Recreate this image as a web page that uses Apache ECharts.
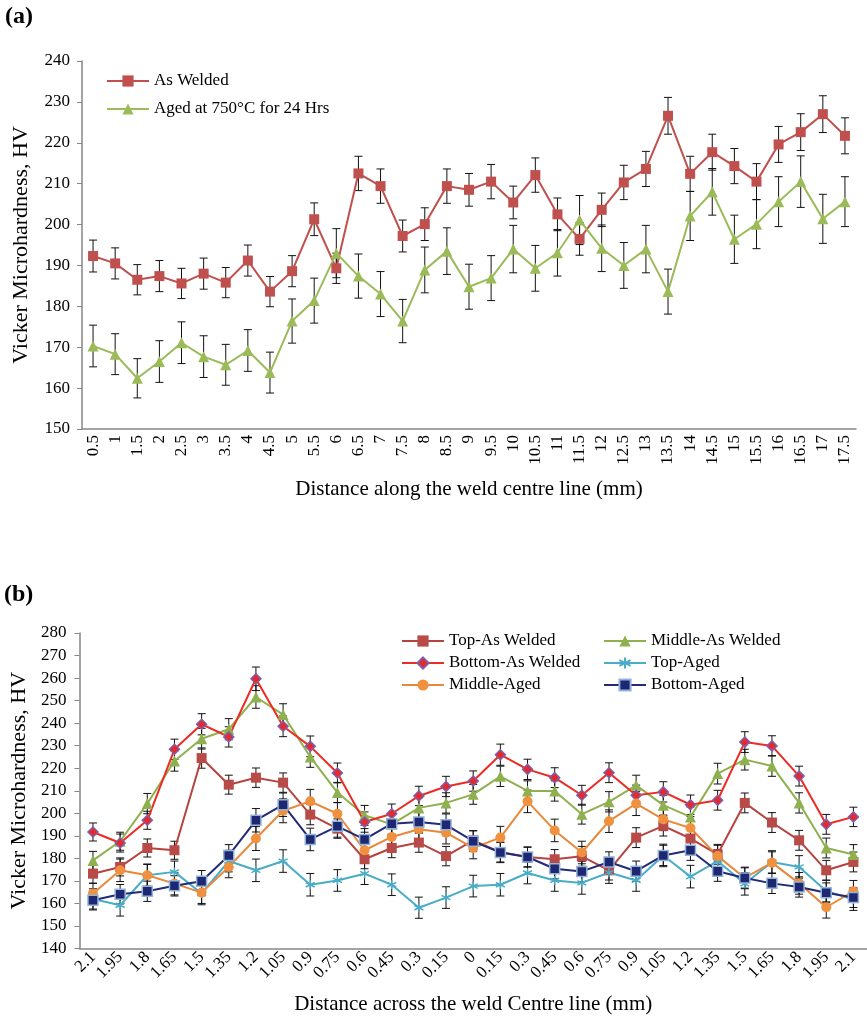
<!DOCTYPE html>
<html><head><meta charset="utf-8">
<script src="https://cdn.jsdelivr.net/npm/echarts@6/dist/echarts.min.js"></script>
<style>html,body{margin:0;padding:0;background:#fff}#c{width:867px;height:1024px}</style>
</head><body><div id="c"></div>
<script>
// ---------- Chart (a) data ----------
const catsA = ['0.5','1','1.5','2','2.5','3','3.5','4','4.5','5','5.5','6','6.5','7','7.5','8','8.5','9','9.5','10','10.5','11','11.5','12','12.5','13','13.5','14','14.5','15','15.5','16','16.5','17','17.5'];
const asWelded = [192.3,190.5,186.5,187.4,185.6,188,185.8,191.2,183.6,188.6,201.3,189.3,212.5,209.4,197.2,200.1,209.4,208.5,210.5,205.4,212.1,202.5,196.5,203.6,210.3,213.6,226.6,212.4,217.7,214.3,210.5,219.6,222.6,227,221.7];
const asWeldedErr = [3.9,3.8,3.7,3.8,3.7,3.8,3.7,3.8,3.7,3.8,4,3.7,4.2,4.2,3.9,4,4.2,4,4.2,4,4.2,4,4,4.1,4.2,4.3,4.5,4.3,4.4,4.3,4.4,4.4,4.5,4.5,4.4];
const aged = [170.3,168.3,162.4,166.5,171.1,167.7,165.7,169.2,163.8,176.4,181.4,193,187.4,183,176.4,188.9,193.5,184.8,186.9,194,189.3,193.1,201.1,194.2,190,194,183.6,202.1,208,196.4,200.1,205.6,210.5,201.4,205.6];
const agedErr = [5.1,5,4.8,5.1,5.1,5.1,5,5.1,5,5.4,5.5,6,5.4,5.5,5.3,5.6,5.7,5.5,5.5,5.8,5.6,5.7,6,5.7,5.6,5.8,5.5,6,5.7,5.9,6,6.1,6.3,6,6.1];
const ticksA = {min:150, max:240, interval:10};

// ---------- Chart (b) data ----------
const catsB = ['2.1','1.95','1.8','1.65','1.5','1.35','1.2','1.05','0.9','0.75','0.6','0.45','0.3','0.15','0','0.15','0.3','0.45','0.6','0.75','0.9','1.05','1.2','1.35','1.5','1.65','1.8','1.95','2.1'];
const topAW = [173.2,176.2,184.6,183.6,224.5,212.7,215.8,213.6,199.4,193.2,179.6,184.6,187,181,188,182.8,180.6,179.6,180.9,174.7,189.2,194.4,188.8,181.8,204.6,195.9,188,174.7,178.4];
const bottomAW = [191.7,186.8,196.9,228.4,239.5,233.9,259.7,238.6,229.7,217.9,196.1,199.8,207.7,211.9,214.3,226,219.5,215.8,208,218,208,209.5,203.8,205.8,231.6,229.9,216.5,195.1,198.4];
const middleAW = [179.1,187.6,204.3,223.2,233.1,237.3,251.6,243.8,225,209.2,199.1,195.1,202.4,204.6,208.4,216.4,209.9,209.9,199.6,205.1,212.4,203.6,198.4,217.6,223.8,221,204.6,184.6,181.7];
const topAged = [162,159.2,172.5,174,164.4,178.8,174.7,178.8,168.3,170.2,173.2,168.3,158.1,162.6,167.7,168.3,173.5,170.2,169.1,173.7,170.2,181.3,171.9,178.8,168.7,178.4,176.2,165.5,161.7];
const middleAged = [164.4,174.7,172.5,168.8,164.8,176.2,188.8,201.1,205.3,199.8,183.6,189.5,192.9,191.4,184.6,189.2,205.3,192.4,182.6,196.5,204.3,197.3,193.5,181,171.3,178.1,168.9,158.3,165.4];
const bottomAged = [161.4,164.1,165.4,167.8,169.8,181.3,196.9,203.8,188.4,194.2,188.4,195.4,196.1,194.9,187.6,182.6,180.6,175.4,174.2,178.4,174.3,181.3,183.6,174.3,171.3,168.9,167.3,164.7,162.6];
const topAWErr = [4.2,4,4,4,4.5,4.2,4.3,4.3,4.5,4.3,4.2,4.3,4.3,4.3,4.3,4.4,4.3,4.3,4.4,4.3,4.4,4.5,4.5,4.4,4.4,4.4,4.4,4.4,4.4];
const bottomAWErr = [4,4,4,4.5,4.7,4.5,5.2,4.6,4.6,4.4,4.5,4.3,4.3,4.5,4.5,4.7,4.5,4.4,4.4,4.4,4.5,4.5,4.3,4.4,4.6,4.5,4.4,4.4,4.3];
const middleAWErr = [4,4,4.5,4.5,4.6,4.7,5,4.8,4.6,4.5,4.4,4.4,4.5,4.5,4.4,4.5,4.5,4.5,4.4,4.5,4.5,4.4,4.4,4.6,4.6,4.6,4.5,4.4,4.4];
const topAgedErr = [4.5,4.8,4.8,4.8,5,4.8,5,5,5,4.8,4.8,4.8,4.7,4.8,4.8,5,4.8,4.8,5,4.8,4.8,5,5,5,5,5,5,4.8,4.8];
const middleAgedErr = [4.5,5,5,5,4.8,4.8,5.3,5.3,5.3,5,4.8,4.8,5,5,4.8,5,5,5,5,5,5.3,5,5,4.8,4.8,4.8,4.8,4.8,4.8];
const bottomAgedErr = [4.3,4.3,4.5,4.5,4.8,4.8,5.2,5.2,5,4.8,4.8,4.8,4.8,4.8,4.6,4.5,4.5,4.5,4.5,4.5,4.5,4.5,4.5,4.5,4.5,4.5,4.5,4.4,4.4];
const ticksB = {min:140, max:280, interval:10};

const FONT = 'Liberation Serif';
const AXIS_COLOR = '#868686';
const asterisk = 'path://M5,0L5,10M0.7,2.5L9.3,7.5M9.3,2.5L0.7,7.5';

function errSeries(idx, vals, errs) {
  return {
    type: 'custom', xAxisIndex: idx, yAxisIndex: idx, z: 1, silent: true,
    data: vals.map((v, i) => [i, v - errs[i], v + errs[i]]),
    encode: {x: 0, y: [1, 2]},
    renderItem: function (params, api) {
      const x = api.value(0);
      const lo = api.coord([x, api.value(1)]);
      const hi = api.coord([x, api.value(2)]);
      const hw = 4;
      const st = {stroke: '#111', lineWidth: 1};
      return {type: 'group', children: [
        {type: 'line', shape: {x1: lo[0], y1: lo[1], x2: hi[0], y2: hi[1]}, style: st},
        {type: 'line', shape: {x1: lo[0] - hw, y1: lo[1], x2: lo[0] + hw, y2: lo[1]}, style: st},
        {type: 'line', shape: {x1: hi[0] - hw, y1: hi[1], x2: hi[0] + hw, y2: hi[1]}, style: st}
      ]};
    }
  };
}
function lineSeries(idx, name, vals, color, symbol, size, itemStyle) {
  return {
    type: 'line', name: name, xAxisIndex: idx, yAxisIndex: idx, z: 3,
    data: vals, symbol: symbol, symbolSize: size, showAllSymbol: true,
    lineStyle: {color: color, width: 2},
    itemStyle: Object.assign({color: color, opacity: 1}, itemStyle || {}),
    emphasis: {disabled: true}, animation: false
  };
}
function xAxis(idx, cats, rotate, name, nameGap) {
  return {
    type: 'category', gridIndex: idx, data: cats, boundaryGap: true,
    axisLine: {lineStyle: {color: AXIS_COLOR, width: 1.5}},
    axisTick: {show: false},
    axisLabel: {interval: 0, rotate: rotate, color: '#000', fontFamily: FONT, fontSize: 17, margin: 6},
    name: name, nameLocation: 'middle', nameGap: nameGap,
    nameTextStyle: {color: '#000', fontFamily: FONT, fontSize: 21}
  };
}
function yAxis(idx, t, nameGap, margin) {
  return {
    type: 'value', gridIndex: idx, min: t.min, max: t.max, interval: t.interval,
    splitLine: {show: false},
    axisLine: {show: true, lineStyle: {color: AXIS_COLOR, width: 1.5}},
    axisTick: {show: true, length: 5, lineStyle: {color: AXIS_COLOR}},
    axisLabel: {color: '#000', fontFamily: FONT, fontSize: 17, margin: margin},
    name: 'Vicker Microhardness, HV', nameLocation: 'middle', nameGap: nameGap,
    nameTextStyle: {color: '#000', fontFamily: FONT, fontSize: 22}
  };
}
const legendText = {color: '#000', fontFamily: FONT, fontSize: 17, lineHeight: 18};

const option = {
  animation: false,
  backgroundColor: '#fff',
  graphic: [
    {type: 'text', left: 5, top: 5, style: {text: '(a)', font: 'bold 24px "Liberation Serif"', fill: '#000'}},
    {type: 'text', left: 4, top: 583, style: {text: '(b)', font: 'bold 24px "Liberation Serif"', fill: '#000'}}
  ],
  grid: [
    {left: 82, right: 11, top: 61, height: 368},
    {left: 78, right: -5, top: 633, height: 315.5}
  ],
  legend: [
    {data: ['As Welded', 'Aged at 750°C for 24 Hrs'], orient: 'vertical', left: 106, top: 72, padding: 0,
     itemWidth: 42, itemHeight: 14, itemGap: 10, textStyle: legendText, selectedMode: false},
    {data: ['Top-As Welded', 'Bottom-As Welded', 'Middle-Aged'], orient: 'vertical', left: 401, top: 632, padding: 0,
     itemWidth: 42, itemHeight: 14, itemGap: 4, textStyle: legendText, selectedMode: false},
    {data: ['Middle-As Welded', 'Top-Aged', 'Bottom-Aged'], orient: 'vertical', left: 603, top: 632, padding: 0,
     itemWidth: 42, itemHeight: 14, itemGap: 4, textStyle: legendText, selectedMode: false}
  ],
  xAxis: [
    xAxis(0, catsA, 90, 'Distance along the weld centre line (mm)', 50),
    xAxis(1, catsB, 45, 'Distance across the weld Centre line (mm)', 45)
  ],
  yAxis: [yAxis(0, ticksA, 50, 12), yAxis(1, ticksB, 44, 13)],
  series: [
    errSeries(0, asWelded, asWeldedErr),
    errSeries(0, aged, agedErr),
    lineSeries(0, 'As Welded', asWelded, '#C0504D', 'rect', 10),
    lineSeries(0, 'Aged at 750°C for 24 Hrs', aged, '#9BBB59', 'triangle', 11),

    errSeries(1, topAW, topAWErr),
    errSeries(1, bottomAW, bottomAWErr),
    errSeries(1, middleAW, middleAWErr),
    errSeries(1, topAged, topAgedErr),
    errSeries(1, middleAged, middleAgedErr),
    errSeries(1, bottomAged, bottomAgedErr),
    lineSeries(1, 'Top-As Welded', topAW, '#B6433F', 'rect', 10, {color: '#B84A47'}),
    lineSeries(1, 'Middle-As Welded', middleAW, '#8FB04E', 'triangle', 11, {color: '#8FB04E'}),
    lineSeries(1, 'Bottom-As Welded', bottomAW, '#EE2A24', 'diamond', 10, {color: '#E8282B', borderColor: '#7E5FA8', borderWidth: 1.5}),
    lineSeries(1, 'Top-Aged', topAged, '#4BACC6', asterisk, 9, {color: '#4BACC6', borderColor: '#4BACC6', borderWidth: 1.5}),
    lineSeries(1, 'Middle-Aged', middleAged, '#E8883A', 'circle', 10, {color: '#F0913F'}),
    lineSeries(1, 'Bottom-Aged', bottomAged, '#232A78', 'rect', 10, {color: '#1E2872', borderColor: '#95B3D7', borderWidth: 1.5})
  ]
};
const chart = echarts.init(document.getElementById('c'), null, {renderer: 'canvas'});
chart.setOption(option);
</script>
</body></html>
